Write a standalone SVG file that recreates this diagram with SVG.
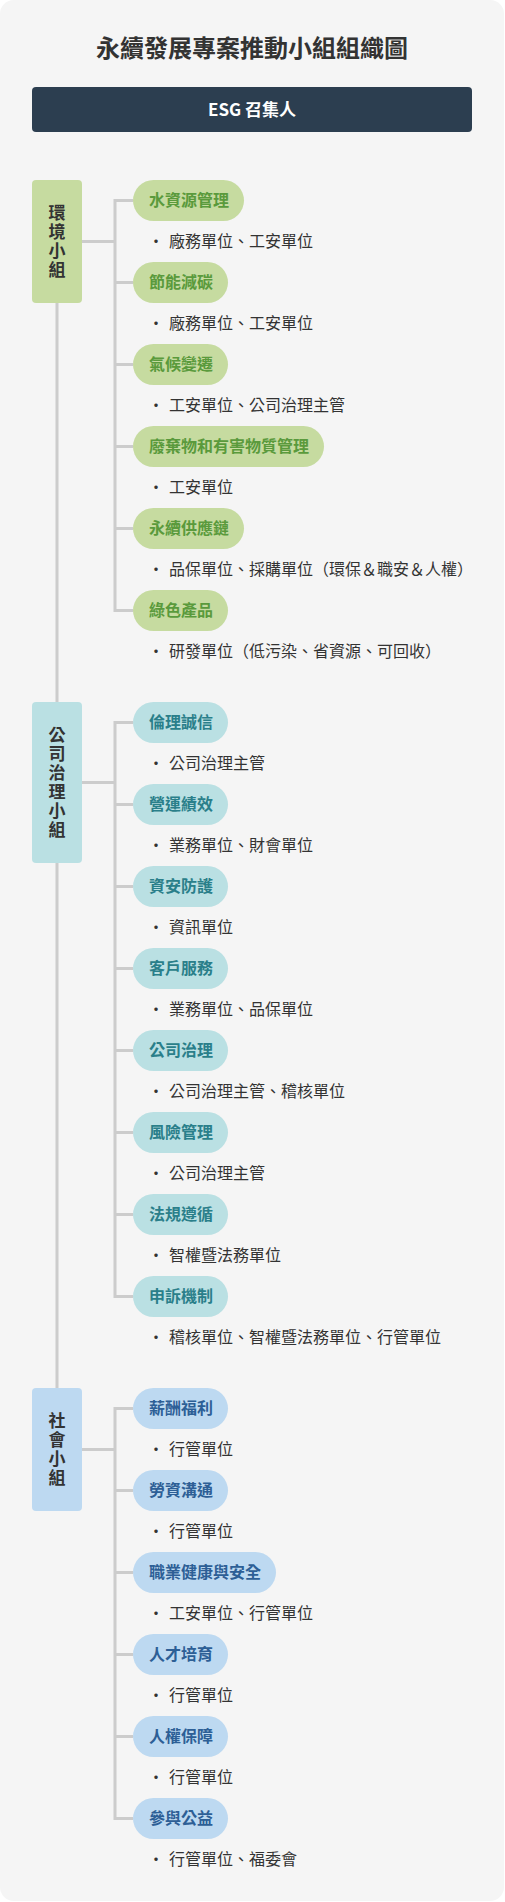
<svg xmlns="http://www.w3.org/2000/svg" width="505" height="1902" viewBox="0 0 505 1902">
<style>
text{font-family:"Noto Sans CJK TC","Noto Sans CJK SC","Noto Sans",sans-serif}
.title{font-size:24px;font-weight:700;fill:#333;text-anchor:middle}
.top{font-size:17px;font-weight:700;fill:#fff;text-anchor:middle}
.gt{font-size:17px;font-weight:700;fill:#333;text-anchor:middle;writing-mode:vertical-rl;letter-spacing:2px}
.pt{font-size:16px;font-weight:700}
.bt{font-size:16px;fill:#333}
.bu{font-size:16px;fill:#333;text-anchor:middle}
.conn{fill:none;stroke:#cccccc;stroke-width:3}
.env .box,.env .pill{fill:#c6dba0}.env .pt{fill:#5a9a3c}
.gov .box,.gov .pill{fill:#bae0e3}.gov .pt{fill:#2a7f8a}
.soc .box,.soc .pill{fill:#bdd9f1}.soc .pt{fill:#2d5f96}
</style>
<rect x="0" y="0" width="505" height="1902" fill="#ffffff"/>
<rect x="0" y="0" width="504" height="1901" rx="14" fill="#f5f5f5"/>
<text class="title" x="252" y="57">永續發展專案推動小組組織圖</text>
<g id="convener">
<rect x="32" y="87" width="440" height="45" rx="4" fill="#2c3e50"/>
<text class="top" x="252" y="116">ESG 召集人</text>
</g>
<g id="connectors" class="conn">
<path d="M57 241.5V1449.5"/>
<path d="M82 241.5H115M133 200.5H115V610.5H133M115 282.5H133M115 364.5H133M115 446.5H133M115 528.5H133"/>
<path d="M82 782.5H115M133 722.5H115V1296.5H133M115 804.5H133M115 886.5H133M115 968.5H133M115 1050.5H133M115 1132.5H133M115 1214.5H133"/>
<path d="M82 1449.5H115M133 1408.5H115V1818.5H133M115 1490.5H133M115 1572.5H133M115 1654.5H133M115 1736.5H133"/>
</g>
<g id="env" class="env">
<g id="env-group"><rect class="box" x="32" y="180" width="50" height="123" rx="4"/>
<text class="gt" x="57" y="242.5">環境小組</text></g>
<g id="env-1"><rect class="pill" x="133" y="180" width="111" height="41" rx="20.5"/><text class="pt" x="149" y="206">水資源管理</text><text class="bu" x="156" y="247">•</text><text class="bt" x="169" y="247">廠務單位、工安單位</text></g>
<g id="env-2"><rect class="pill" x="133" y="262" width="95" height="41" rx="20.5"/><text class="pt" x="149" y="288">節能減碳</text><text class="bu" x="156" y="329">•</text><text class="bt" x="169" y="329">廠務單位、工安單位</text></g>
<g id="env-3"><rect class="pill" x="133" y="344" width="95" height="41" rx="20.5"/><text class="pt" x="149" y="370">氣候變遷</text><text class="bu" x="156" y="411">•</text><text class="bt" x="169" y="411">工安單位、公司治理主管</text></g>
<g id="env-4"><rect class="pill" x="133" y="426" width="191" height="41" rx="20.5"/><text class="pt" x="149" y="452">廢棄物和有害物質管理</text><text class="bu" x="156" y="493">•</text><text class="bt" x="169" y="493">工安單位</text></g>
<g id="env-5"><rect class="pill" x="133" y="508" width="111" height="41" rx="20.5"/><text class="pt" x="149" y="534">永續供應鏈</text><text class="bu" x="156" y="575">•</text><text class="bt" x="169" y="575">品保單位、採購單位（環保＆職安＆人權）</text></g>
<g id="env-6"><rect class="pill" x="133" y="590" width="95" height="41" rx="20.5"/><text class="pt" x="149" y="616">綠色產品</text><text class="bu" x="156" y="657">•</text><text class="bt" x="169" y="657">研發單位（低污染、省資源、可回收）</text></g>
</g>
<g id="gov" class="gov">
<g id="gov-group"><rect class="box" x="32" y="702" width="50" height="161" rx="4"/>
<text class="gt" x="57" y="783.5">公司治理小組</text></g>
<g id="gov-1"><rect class="pill" x="133" y="702" width="95" height="41" rx="20.5"/><text class="pt" x="149" y="728">倫理誠信</text><text class="bu" x="156" y="769">•</text><text class="bt" x="169" y="769">公司治理主管</text></g>
<g id="gov-2"><rect class="pill" x="133" y="784" width="95" height="41" rx="20.5"/><text class="pt" x="149" y="810">營運績效</text><text class="bu" x="156" y="851">•</text><text class="bt" x="169" y="851">業務單位、財會單位</text></g>
<g id="gov-3"><rect class="pill" x="133" y="866" width="95" height="41" rx="20.5"/><text class="pt" x="149" y="892">資安防護</text><text class="bu" x="156" y="933">•</text><text class="bt" x="169" y="933">資訊單位</text></g>
<g id="gov-4"><rect class="pill" x="133" y="948" width="95" height="41" rx="20.5"/><text class="pt" x="149" y="974">客戶服務</text><text class="bu" x="156" y="1015">•</text><text class="bt" x="169" y="1015">業務單位、品保單位</text></g>
<g id="gov-5"><rect class="pill" x="133" y="1030" width="95" height="41" rx="20.5"/><text class="pt" x="149" y="1056">公司治理</text><text class="bu" x="156" y="1097">•</text><text class="bt" x="169" y="1097">公司治理主管、稽核單位</text></g>
<g id="gov-6"><rect class="pill" x="133" y="1112" width="95" height="41" rx="20.5"/><text class="pt" x="149" y="1138">風險管理</text><text class="bu" x="156" y="1179">•</text><text class="bt" x="169" y="1179">公司治理主管</text></g>
<g id="gov-7"><rect class="pill" x="133" y="1194" width="95" height="41" rx="20.5"/><text class="pt" x="149" y="1220">法規遵循</text><text class="bu" x="156" y="1261">•</text><text class="bt" x="169" y="1261">智權暨法務單位</text></g>
<g id="gov-8"><rect class="pill" x="133" y="1276" width="95" height="41" rx="20.5"/><text class="pt" x="149" y="1302">申訴機制</text><text class="bu" x="156" y="1343">•</text><text class="bt" x="169" y="1343">稽核單位、智權暨法務單位、行管單位</text></g>
</g>
<g id="soc" class="soc">
<g id="soc-group"><rect class="box" x="32" y="1388" width="50" height="123" rx="4"/>
<text class="gt" x="57" y="1450.5">社會小組</text></g>
<g id="soc-1"><rect class="pill" x="133" y="1388" width="95" height="41" rx="20.5"/><text class="pt" x="149" y="1414">薪酬福利</text><text class="bu" x="156" y="1455">•</text><text class="bt" x="169" y="1455">行管單位</text></g>
<g id="soc-2"><rect class="pill" x="133" y="1470" width="95" height="41" rx="20.5"/><text class="pt" x="149" y="1496">勞資溝通</text><text class="bu" x="156" y="1537">•</text><text class="bt" x="169" y="1537">行管單位</text></g>
<g id="soc-3"><rect class="pill" x="133" y="1552" width="143" height="41" rx="20.5"/><text class="pt" x="149" y="1578">職業健康與安全</text><text class="bu" x="156" y="1619">•</text><text class="bt" x="169" y="1619">工安單位、行管單位</text></g>
<g id="soc-4"><rect class="pill" x="133" y="1634" width="95" height="41" rx="20.5"/><text class="pt" x="149" y="1660">人才培育</text><text class="bu" x="156" y="1701">•</text><text class="bt" x="169" y="1701">行管單位</text></g>
<g id="soc-5"><rect class="pill" x="133" y="1716" width="95" height="41" rx="20.5"/><text class="pt" x="149" y="1742">人權保障</text><text class="bu" x="156" y="1783">•</text><text class="bt" x="169" y="1783">行管單位</text></g>
<g id="soc-6"><rect class="pill" x="133" y="1798" width="95" height="41" rx="20.5"/><text class="pt" x="149" y="1824">參與公益</text><text class="bu" x="156" y="1865">•</text><text class="bt" x="169" y="1865">行管單位、福委會</text></g>
</g>
</svg>
